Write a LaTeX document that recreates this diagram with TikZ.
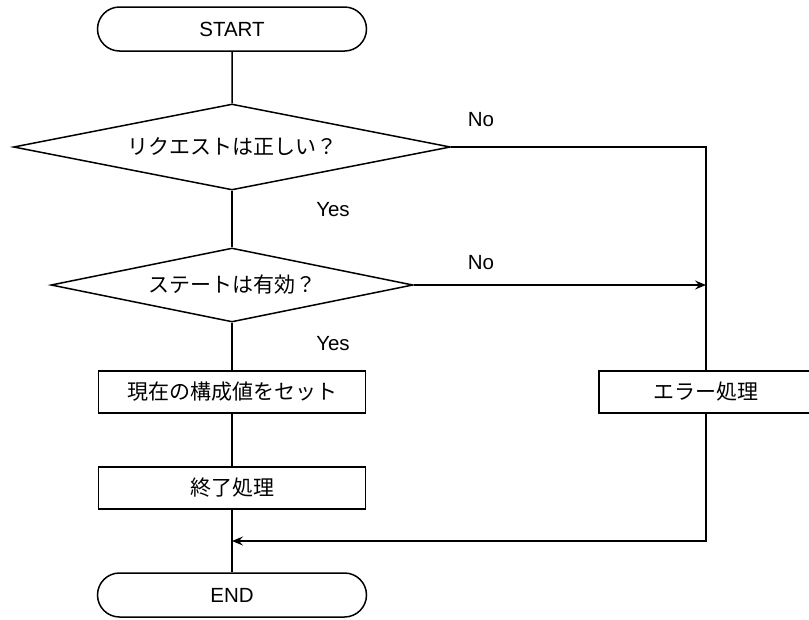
\documentclass[tikz,border=0pt]{standalone}
\usepackage{fontspec}
\setmainfont{Liberation Sans}
\newfontfamily\jpfont{Noto Sans CJK JP}
\usetikzlibrary{shapes.geometric,shapes.misc,arrows.meta}

\begin{document}
\begin{tikzpicture}[x=1pt, y=-1pt, line width=1.5pt,
    every node/.style={font=\fontsize{20.5}{24}\selectfont},
    term/.style={draw, rounded rectangle, minimum width=269pt, minimum height=44pt, inner sep=0pt},
    decide/.style={draw, diamond, inner sep=0pt, font=\jpfont\fontsize{21}{24}\selectfont},
    proc/.style={draw, rectangle, minimum height=42pt, inner sep=0pt, font=\jpfont\fontsize{21}{24}\selectfont},
    lbl/.style={inner sep=0pt},
    flow/.style={-{Stealth[length=11pt, width=9pt, inset=4pt]}}]
  \useasboundingbox (0,0) rectangle (809,619);
  % nodes
  \node[term] (start) at (232,29) {START};
  \node[decide, aspect=5.08, minimum width=437pt, minimum height=86pt] (req) at (232,147) {リクエストは正しい？};
  \node[decide, aspect=4.89, minimum width=362pt, minimum height=74pt] (state) at (232,285) {ステートは有効？};
  \node[proc, minimum width=267pt] (setval) at (232,392) {現在の構成値をセット};
  \node[proc, minimum width=267pt] (finish) at (232,488) {終了処理};
  \node[proc, minimum width=214pt] (error) at (706,392) {エラー処理};
  \node[term] (end) at (232,595) {END};
  \coordinate (join) at (232,541);
  % labels
  \node[lbl] (no1) at (481,120) {No};
  \node[lbl] (no2) at (481,263) {No};
  \node[lbl] (yes1) at (333,210) {Yes};
  \node[lbl] (yes2) at (333,344) {Yes};
  % connectors
  \draw (start) -- (req);
  \draw (req) -- (state);
  \draw (state) -- (setval);
  \draw (setval) -- (finish);
  \draw (finish) -- (end);
  \draw (req.east) -| (error.north);
  \draw[flow] (state.east) -- (state.east -| error.north);
  \draw[flow] (error.south) |- (join);
\end{tikzpicture}
\end{document}
